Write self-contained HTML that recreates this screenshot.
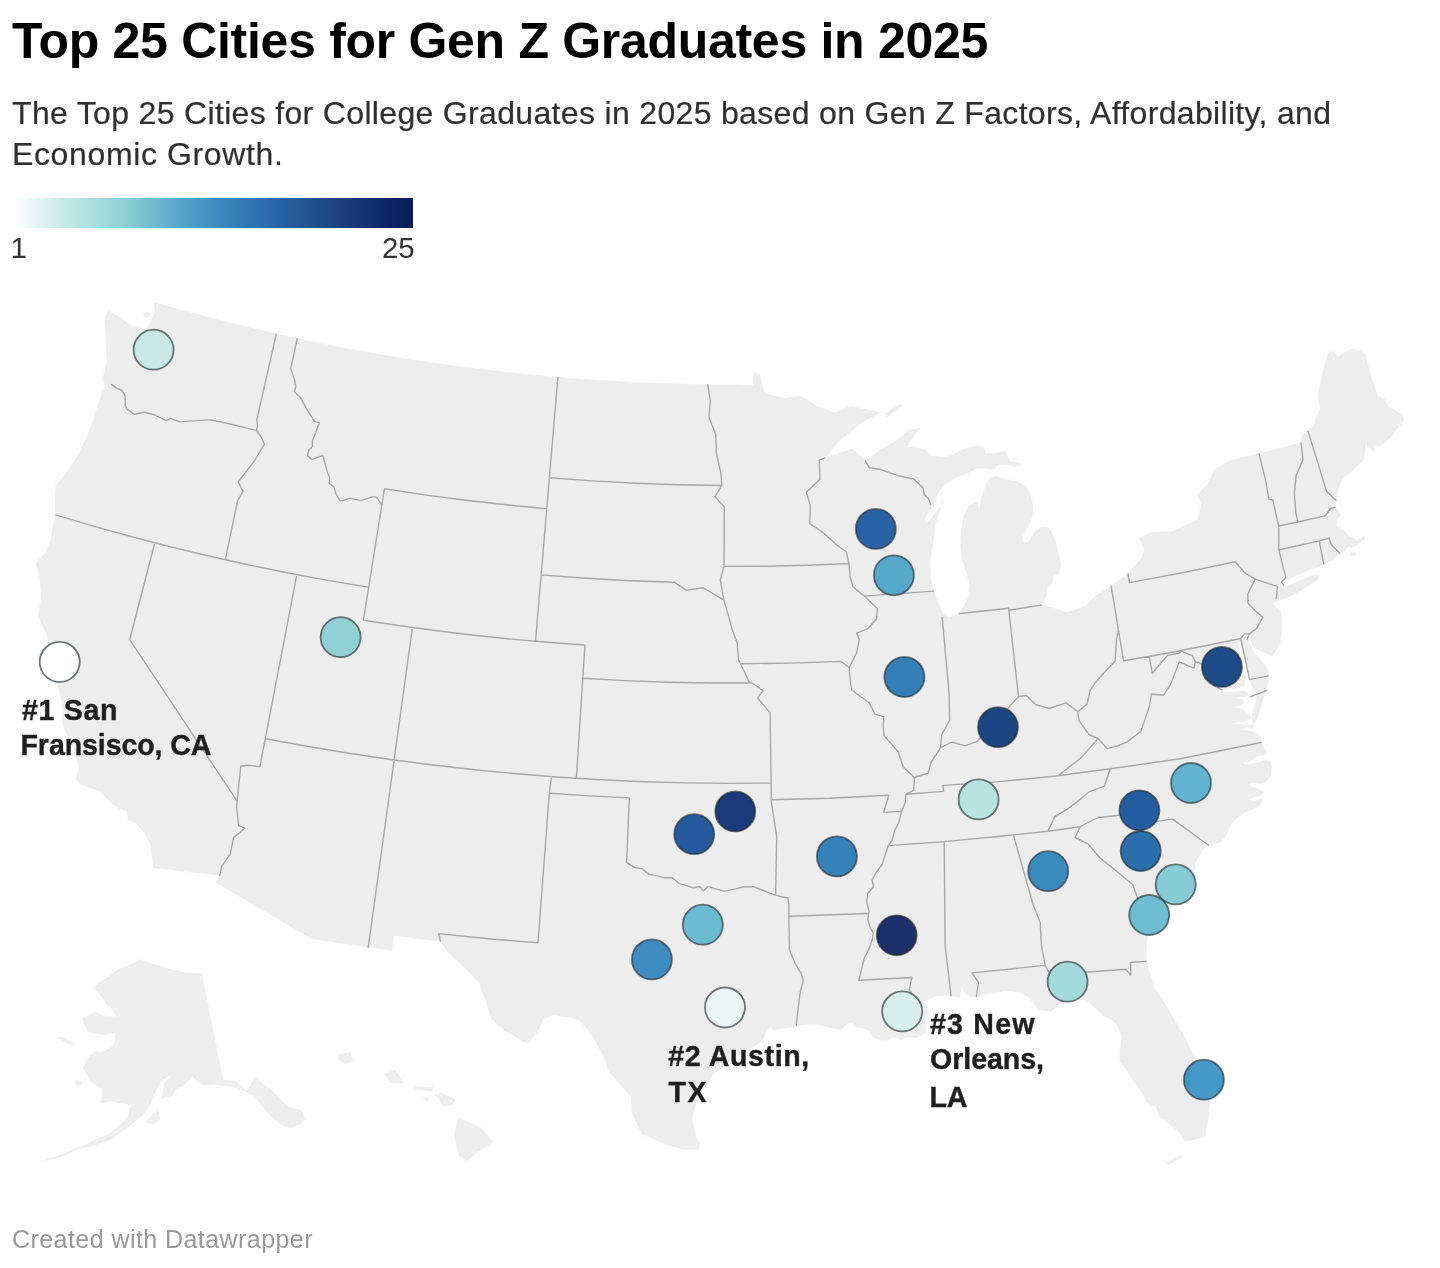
<!DOCTYPE html>
<html lang="en">
<head>
<meta charset="utf-8">
<title>Top 25 Cities for Gen Z Graduates in 2025</title>
<style>
html,body{margin:0;padding:0;background:#fff;}
body{width:1440px;height:1268px;position:relative;overflow:hidden;font-family:"Liberation Sans",sans-serif;}
.abs{position:absolute;white-space:nowrap;}
#title{left:12px;top:12px;font-size:50px;font-weight:700;color:#000;line-height:58px;letter-spacing:-0.3px;}
#sub{left:12px;top:93px;font-size:32px;color:#303030;-webkit-text-stroke:0.2px #303030;line-height:41px;letter-spacing:0.33px;}
#grad{left:13px;top:198px;width:400px;height:30px;background:linear-gradient(90deg,#ffffff 0%,#c9ebe5 12%,#8fd0d4 28%,#55a6ca 42%,#3581b9 55%,#2660a2 68%,#1d3f7e 82%,#0b2360 95%,#081d58 100%);}
.lg{font-size:29.4px;color:#333;top:232.5px;line-height:30px;}
#foot{left:12px;top:1224.3px;font-size:25px;color:#9a9a9a;line-height:30px;letter-spacing:0.44px;}
#map{position:absolute;left:0;top:0;}
.lbl{font-weight:700;font-size:28.6px;fill:#1f1f1f;stroke:#1f1f1f;stroke-width:0.35px;font-family:"Liberation Sans",sans-serif;}
</style>
</head>
<body>
<svg id="map" width="1440" height="1268" viewBox="0 0 1440 1268">
<g fill="#eeeeee" stroke="none"><path d="M58.0,1037.0L63.0,1037.5L70.0,1041.0L74.0,1044.0L71.0,1045.0L64.0,1042.0L59.0,1039.5ZM74.0,1081.0L79.0,1080.0L83.0,1083.0L81.0,1086.0L76.0,1085.0ZM305.2,1120.0L301.6,1110.2L287.9,1106.5L271.9,1089.9L255.2,1077.9L246.6,1091.1L235.0,1080.7L223.1,1079.7L202.1,973.6L185.4,972.4L171.0,969.4L157.0,965.1L139.3,959.3L129.8,965.0L117.5,969.5L110.6,975.5L98.0,982.9L94.3,988.4L102.8,998.6L106.3,1005.0L110.6,1007.3L113.3,1011.7L116.5,1016.2L103.8,1016.3L96.0,1011.5L82.2,1018.3L87.4,1031.7L92.7,1033.3L104.5,1035.1L114.8,1032.9L114.7,1043.3L110.6,1048.1L102.2,1051.8L94.4,1051.2L89.3,1056.2L82.9,1066.9L86.7,1074.7L89.6,1081.1L101.3,1088.6L102.1,1096.9L100.3,1103.1L111.7,1101.4L122.3,1103.5L131.2,1105.1L127.6,1117.8L119.6,1125.4L107.2,1134.8L93.5,1140.3L87.0,1144.1L77.0,1147.2L64.3,1153.2L49.1,1158.3L41.3,1161.3L52.5,1159.1L63.6,1156.6L76.6,1149.5L92.7,1146.0L110.0,1139.8L121.0,1132.5L133.6,1122.7L143.1,1114.8L150.4,1104.4L153.3,1096.2L157.8,1086.8L162.7,1079.7L171.4,1075.2L164.5,1083.1L162.1,1094.9L161.6,1099.5L172.6,1095.5L175.7,1089.5L183.5,1085.4L191.4,1078.7L192.1,1075.2L196.3,1081.7L203.7,1085.4L215.3,1084.7L232.2,1086.7L243.4,1090.7L254.2,1096.3L262.0,1106.2L271.7,1116.7L281.0,1124.7L290.5,1128.3L299.8,1124.5ZM146.1,1121.8L152.4,1125.3L160.4,1119.3L158.3,1110.1L152.3,1114.3Z"/><path d="M458.6,1117.5L480.5,1127.3L493.1,1142.0L477.5,1152.0L466.6,1161.3L458.8,1155.4L454.0,1134.0ZM433.6,1094.5L441.4,1092.8L455.4,1099.4L452.3,1105.3L443.0,1106.7L439.9,1100.1ZM384.6,1074.0L394.8,1069.8L404.1,1083.0L390.1,1082.9ZM339.2,1054.6L350.1,1052.1L353.1,1061.3L345.3,1063.9L337.6,1059.5ZM415.0,1086.3L433.0,1087.3L432.1,1091.2L415.0,1089.6ZM422.7,1096.2L429.9,1098.5L425.9,1101.7Z"/></g>
<path d="M108.5,310.8L105.0,317.8L105.7,331.7L106.4,345.6L107.1,359.4L105.7,367.8L102.9,378.9L105.0,385.8L99.4,401.1L92.5,421.9L85.6,440.0L77.2,456.7L68.0,471.0L56.1,485.7L55.3,500.8L55.8,514.9L53.6,522.9L50.6,541.2L46.0,552.0L36.0,563.2L40.1,579.9L41.3,597.7L38.5,616.0L48.0,638.0L46.7,651.6L57.2,661.6L54.5,671.2L54.2,681.6L59.2,690.0L61.7,700.0L62.5,710.0L61.7,720.0L64.2,728.3L70.0,740.0L75.0,751.7L79.0,766.3L76.3,778.7L79.4,783.7L99.2,790.6L110.3,802.0L119.9,808.8L127.6,811.4L128.4,820.1L136.1,823.0L142.8,830.4L150.9,844.2L152.3,856.5L153.5,867.7L219.8,875.3L215.9,882.3L312.0,938.8L391.7,950.4L393.6,935.5L440.4,941.2L448.4,952.4L463.9,967.0L479.4,982.9L486.3,1001.9L491.9,1019.0L504.0,1030.0L523.4,1041.5L527.6,1042.9L537.1,1032.6L543.3,1018.5L554.2,1014.5L579.7,1019.8L591.9,1034.4L603.9,1056.5L609.0,1071.6L631.5,1097.3L632.4,1113.8L642.1,1133.8L665.8,1144.3L685.2,1149.7L698.3,1149.3L699.7,1144.4L695.6,1136.1L693.5,1127.8L692.1,1118.1L694.2,1108.3L698.0,1098.0L703.0,1088.0L709.4,1079.2L715.0,1072.2L730.0,1062.0L745.0,1052.0L760.8,1041.7L765.0,1034.7L766.4,1029.2L770.6,1026.4L773.3,1029.9L785.8,1027.8L796.3,1026.3L810.0,1023.8L820.0,1024.8L830.0,1027.5L841.3,1029.4L847.5,1023.1L852.5,1021.9L856.3,1026.9L863.8,1028.1L870.0,1031.3L872.5,1036.9L880.0,1039.8L886.3,1040.3L892.5,1037.3L901.3,1039.0L907.5,1037.3L915.0,1037.8L921.3,1035.6L927.0,1031.0L928.5,1015.0L926.0,1004.0L922.5,1001.3L925.7,999.9L936.8,995.7L951.1,995.6L959.8,997.3L961.6,984.5L965.2,993.5L969.8,997.1L976.4,996.5L985.3,994.0L1005.0,990.4L1019.6,992.3L1028.7,997.3L1038.7,1009.5L1050.5,1011.5L1066.5,999.6L1071.4,993.0L1080.3,994.5L1090.1,1003.3L1103.2,1014.9L1116.1,1023.1L1122.2,1035.6L1119.9,1050.9L1119.9,1060.9L1125.4,1068.5L1131.1,1077.6L1142.3,1092.7L1146.7,1102.0L1156.5,1107.2L1159.4,1116.7L1166.1,1120.6L1180.3,1133.4L1184.6,1141.0L1196.5,1139.1L1205.2,1136.0L1205.7,1129.3L1208.2,1117.2L1209.7,1098.7L1207.5,1082.4L1201.8,1070.0L1193.3,1054.7L1182.3,1033.1L1172.2,1016.4L1166.1,1005.6L1154.5,987.3L1149.1,971.4L1146.1,961.1L1146.1,951.7L1146.8,938.2L1150.6,925.8L1155.2,915.6L1160.3,907.4L1165.3,903.2L1176.2,892.9L1178.4,889.2L1186.2,877.7L1194.6,869.5L1194.7,862.7L1198.0,857.8L1202.2,850.0L1208.3,845.3L1213.3,844.4L1220.0,842.2L1225.6,836.7L1228.0,830.0L1232.2,822.2L1237.8,817.8L1244.4,812.4L1251.1,810.0L1257.8,806.7L1261.7,802.2L1261.7,798.9L1255.6,801.1L1248.3,799.8L1254.4,796.4L1260.6,796.1L1263.3,792.2L1258.9,788.9L1251.7,787.2L1249.4,783.3L1254.4,782.2L1260.0,783.3L1266.1,781.7L1270.6,774.4L1271.4,767.8L1270.0,761.1L1265.6,760.0L1260.0,762.2L1252.8,763.9L1246.1,765.6L1241.7,762.2L1248.9,761.7L1257.8,755.6L1264.4,755.0L1267.2,752.8L1263.9,747.8L1261.7,741.7L1260.6,736.7L1256.7,733.3L1251.1,731.7L1240.6,729.4L1246.7,727.2L1252.2,728.3L1254.4,725.6L1245.6,725.0L1230.0,723.9L1237.8,721.7L1246.7,720.6L1251.1,717.8L1246.7,712.2L1242.2,708.9L1232.2,706.7L1240.0,705.6L1244.4,702.2L1242.2,699.4L1233.3,697.8L1240.0,696.7L1245.6,696.7L1248.9,693.3L1244.4,691.1L1235.6,692.2L1224.4,692.2L1216.7,689.4L1226.7,689.4L1237.8,687.8L1243.9,685.6L1245.6,677.8L1242.2,666.7L1240.0,656.7L1237.2,642.2L1240.9,641.1L1244.4,656.7L1247.8,667.8L1250.8,678.3L1252.2,686.7L1255.6,691.1L1256.7,697.8L1254.4,706.7L1252.2,715.6L1252.8,722.2L1255.0,723.3L1257.8,716.7L1260.0,707.8L1262.8,698.9L1266.1,691.1L1267.8,683.3L1268.9,675.6L1267.2,668.9L1264.4,664.4L1257.8,656.7L1252.2,650.0L1248.9,642.2L1247.8,636.7L1249.4,638.3L1253.3,646.7L1263.3,652.2L1272.2,655.6L1275.6,651.1L1280.0,642.2L1281.7,631.1L1281.7,621.0L1281.0,612.0L1274.4,605.6L1272.8,603.3L1278.9,600.0L1286.7,597.8L1295.6,593.3L1306.7,586.7L1316.7,580.0L1320.0,575.6L1315.6,574.4L1306.7,577.8L1293.3,583.3L1284.4,587.7L1281.5,589.5L1281.5,586.5L1283.3,584.0L1286.7,580.0L1295.6,575.6L1306.7,571.1L1317.8,566.7L1324.4,563.9L1332.2,560.0L1335.6,556.7L1340.0,553.3L1344.4,551.1L1348.9,545.6L1351.1,547.8L1357.8,544.4L1364.6,539.0L1364.4,536.6L1356.7,540.0L1348.9,536.7L1345.6,532.2L1340.0,528.9L1336.7,525.6L1336.7,520.0L1340.0,515.6L1338.9,512.2L1335.6,506.7L1336.0,500.2L1337.4,491.9L1342.4,478.4L1352.2,470.9L1357.8,465.6L1363.3,460.0L1365.0,452.2L1365.6,441.1L1367.8,446.7L1373.3,452.2L1375.6,445.6L1378.9,446.7L1384.4,442.2L1391.1,436.7L1395.6,430.0L1400.0,425.6L1403.9,420.0L1401.1,414.4L1395.6,410.6L1388.3,406.7L1384.4,398.9L1377.8,396.7L1375.0,388.9L1371.1,376.7L1367.8,365.6L1365.0,354.4L1360.0,351.1L1352.2,348.9L1344.4,352.8L1337.8,357.2L1333.3,351.7L1328.9,352.2L1325.6,363.3L1322.2,374.4L1321.1,383.3L1318.3,392.2L1318.9,401.1L1320.6,407.8L1316.7,416.7L1313.3,426.7L1307.8,430.6L1301.6,436.2L1301.0,442.9L1267.0,451.6L1228.4,461.1L1215.8,469.0L1207.2,484.5L1197.4,495.0L1201.7,504.3L1197.7,519.8L1173.2,531.5L1151.4,532.3L1139.1,538.3L1144.7,549.4L1141.5,558.4L1127.9,573.7L1120.4,579.0L1111.2,586.3L1094.8,596.7L1085.2,606.6L1066.2,612.8L1060.8,610.2L1053.1,607.9L1041.5,605.1L1046.4,595.3L1047.7,586.8L1052.1,582.8L1053.3,574.2L1060.5,573.2L1058.5,572.8L1060.6,565.8L1059.2,556.1L1055.0,540.8L1049.4,528.3L1042.5,526.9L1035.6,531.1L1028.6,542.2L1023.1,542.9L1021.7,538.1L1027.2,528.3L1032.1,517.2L1032.8,506.1L1030.0,493.6L1027.2,488.1L1018.9,482.5L1005.0,479.0L995.3,476.3L991.1,477.6L986.9,482.5L983.5,492.2L980.7,500.6L979.3,510.3L977.9,503.3L975.8,501.9L968.9,506.1L963.3,517.2L960.6,538.1L961.9,558.9L966.8,572.8L970.0,585.0L968.0,598.0L962.5,609.4L955.6,615.0L950.0,617.8L943.0,615.0L936.1,598.3L930.7,579.7L930.0,565.8L931.4,551.9L933.5,538.1L934.9,525.6L938.3,514.4L943.2,500.6L941.1,506.1L927.9,522.8L924.2,521.4L925.1,517.2L930.7,508.9L936.0,502.5L934.9,499.2L938.3,492.2L945.3,483.9L950.8,481.1L957.8,476.3L966.1,473.5L977.2,467.9L985.6,467.9L993.9,469.3L998.1,465.1L1005.0,464.4L1014.7,466.5L1021.7,465.1L1017.5,462.4L1010.6,461.7L1007.1,456.1L1005.0,451.3L995.3,453.3L985.6,454.0L983.5,447.1L977.2,445.7L961.9,449.9L952.2,455.4L942.5,457.5L931.4,456.1L925.8,449.9L911.9,447.1L907.1,447.8L909.9,440.8L917.5,431.1L919.6,428.3L909.9,429.7L896.7,440.8L880.0,449.9L865.3,460.8L852.7,448.9L843.7,452.0L824.7,457.9L840.8,439.0L862.4,422.0L879.8,412.7L868.4,410.1L850.3,406.3L835.1,413.0L816.9,406.2L801.1,396.3L792.2,397.2L784.5,398.5L764.5,393.5L762.0,385.0L759.5,374.0L756.0,372.5L753.3,374.0L753.5,385.5L734.7,384.9L701.7,384.6L668.8,383.8L635.8,382.5L602.9,380.7L570.0,378.4L537.1,375.5L504.3,372.1L471.6,368.2L438.9,363.8L406.3,358.9L373.7,353.5L341.3,347.5L309.0,341.0L276.7,334.1L244.6,326.6L212.6,318.6L180.7,310.1L154.1,302.6L155.2,311.4L151.0,322.1L146.5,329.4L132.4,326.3ZM143.0,315.0L146.0,312.5L150.0,313.0L149.0,316.5L145.0,317.0ZM1350.0,553.0L1355.0,552.0L1356.0,555.0L1351.0,556.0ZM1166.0,1163.0L1180.0,1155.0L1182.0,1157.0L1169.0,1164.5ZM886.8,417.1L902.7,405.4L899.3,404.7L885.5,413.9Z" fill="#ededed" stroke="#ededed" stroke-width="0.6" stroke-linejoin="round" fill-rule="evenodd"/>
<path d="" fill="#ffffff" stroke="none"/>
<path d="M111.9,384.4L116.1,387.9L121.7,390.0L125.1,395.6L125.1,405.3L127.2,409.4L134.2,414.3L143.9,412.2L155.0,415.0L166.1,420.6L170.3,418.5L180.0,421.9L196.7,420.6L210.6,419.9L230.0,424.0L256.6,430.5M276.3,333.9L256.8,420.0L257.5,425.6L256.6,430.5M256.6,430.5L261.7,438.1L264.4,444.3L254.7,460.3L246.4,471.4L238.3,481.8L241.5,488.8L243.1,491.0L237.5,501.1L225.3,559.8M297.1,338.8L290.8,368.6L295.0,381.1L295.7,386.7L294.3,391.5L300.6,397.8L307.5,410.3L314.4,421.4L319.3,422.8L315.8,432.5L312.4,440.8L312.4,446.4L308.9,449.9L307.5,455.4L311.7,459.6L317.2,457.5L322.8,455.4L324.9,463.1L327.6,472.8L329.7,478.3L329.0,483.2L333.9,486.7L336.1,494.2L340.3,501.1L350.0,498.3L361.1,500.6L372.2,496.9L376.4,496.9L381.1,503.9M55.8,514.9L94.3,526.3L133.0,537.0L171.9,547.1L211.0,556.5L250.2,565.2L289.6,573.3L329.1,580.6L368.7,587.3M384.4,488.8L424.9,494.9L465.4,500.2L506.1,504.8L546.8,508.7M384.4,488.8L363.4,620.3M557.9,377.4L535.5,641.3M549.4,477.7L592.4,480.9L635.5,483.3L678.7,484.8L721.8,485.5M707.7,384.7L710.3,401.1L709.0,417.5L715.6,434.0L716.5,453.7L721.0,473.6L721.8,485.5L715.0,496.7L724.2,506.7L724.0,566.4M541.2,574.9L585.6,578.2L630.0,580.7L674.5,582.3L686.4,590.2L703.4,587.8L717.8,596.3L723.8,600.0M724.0,566.4L720.3,579.7L723.8,600.0M724.0,566.4L765.6,566.2L807.3,565.3L848.9,563.5M723.8,600.0L728.6,616.4L732.3,629.7L737.2,643.0L738.5,659.7L740.5,663.7L749.8,683.1L752.1,683.0L763.0,690.6L757.5,698.0L770.1,712.6L771.4,799.8M740.5,663.7L790.8,663.1L841.1,661.4L849.1,667.7M582.8,678.3L625.1,680.6L667.4,682.2L709.7,683.0L752.1,683.0M363.4,620.3L400.2,625.8L437.0,630.8L473.9,635.2L510.8,639.1L547.9,642.3L584.9,645.0M584.9,645.0L576.4,778.3M412.4,627.6L368.3,947.2M296.8,574.7L265.3,738.7M265.3,738.7L306.9,746.3L348.7,753.2L390.6,759.5L432.6,765.0L474.7,769.7L516.9,773.8L559.2,777.2L601.4,779.8L643.8,781.7L686.1,782.9L728.5,783.4L770.8,783.1M551.6,776.6L549.3,793.2L538.0,942.9M537.7,942.8L488.1,938.7L438.7,933.6L440.4,941.2M550.4,793.3L589.8,795.9L629.3,797.9L626.6,862.6L635.6,867.8L642.2,868.9L648.9,874.4L656.7,875.6L664.4,877.8L672.2,877.8L678.9,883.3L686.7,885.6L693.3,887.8L700.0,886.7L703.3,891.1L707.8,886.7L715.6,888.9L724.4,891.1L735.6,888.9L744.4,886.7L753.3,886.7L762.2,890.0L773.3,894.4L781.1,896.7L787.8,897.8L788.9,904.4L788.8,915.7L789.5,949.9L795.6,964.4L801.1,973.3L803.3,980.0L800.0,993.3L797.8,1011.1L796.3,1025.0M771.1,799.8L776.7,836.8L775.6,894.8M788.8,916.3L867.9,913.5M771.1,799.8L830.0,798.3L888.8,795.3L883.7,812.4L901.7,811.2M914.5,777.5L913.6,790.3L905.9,794.2L905.2,802.6L901.7,811.2L898.9,822.2L894.4,831.1L892.2,840.0L888.5,845.6L885.6,853.3L882.2,864.4L875.6,873.3L872.2,880.0L873.3,886.7L867.8,893.3L866.7,902.2L868.9,911.1L867.8,920.0L870.0,926.7L873.3,933.3L872.2,940.0L868.9,948.9L864.4,957.8L862.2,966.7L860.0,975.6L858.9,980.3L911.9,977.5L909.3,989.4L915.7,1000.6L919.7,1004.3M914.5,777.5L903.6,767.6L897.8,751.2L883.8,735.4L883.2,724.4L884.0,716.9L874.9,714.1L869.1,702.7L852.0,690.3L850.4,682.6L849.1,667.7L856.4,653.3L859.4,639.7L856.6,633.2L867.9,628.6L876.7,618.7L877.3,608.6L864.4,596.1L853.0,586.7L850.1,576.8L848.9,563.5L846.4,552.0L837.8,545.8L821.8,531.5L809.8,523.6L810.3,505.4L806.4,492.3L819.8,479.5L819.3,460.1L824.7,457.9M864.4,596.1L933.3,591.1M865.3,460.8L869.4,467.8L880.0,469.3L898.1,475.6L913.3,479.0L917.5,482.5L923.1,488.1L924.4,495.0L927.9,497.8L930.7,504.4M914.5,777.5L928.1,773.2L931.1,762.2L940.4,748.0L951.5,742.0L964.9,745.8L977.4,741.3L984.3,732.2L998.0,726.7L1005.3,711.4L1018.5,696.5L1026.6,695.5L1035.4,704.5L1048.8,708.5L1066.1,702.8L1077.7,711.7L1087.0,704.3L1090.1,690.3L1095.4,682.7L1101.9,675.0L1115.1,661.1L1116.6,638.8L1118.5,630.4M940.4,748.0L941.8,734.5L949.6,720.4L949.2,695.3L942.2,617.1M1018.5,696.5L1008.8,610.2M959.8,613.5L1008.6,608.2L1008.8,610.2L1041.5,605.1M1111.2,586.3L1123.5,660.7M1123.5,660.7L1162.7,654.0L1201.7,646.5L1240.7,638.5M1149.3,656.3L1152.3,673.5L1160.4,663.5L1167.6,655.4L1179.0,653.3L1181.7,651.1L1192.4,655.9L1195.3,661.4L1201.8,664.2L1207.7,668.2L1215.2,671.8L1213.9,685.7L1222.0,690.0M1195.3,661.4L1194.0,668.1L1179.3,661.8L1170.2,685.2L1163.5,695.2L1151.5,694.0L1149.6,705.5L1140.9,731.4L1126.8,742.1L1118.6,745.5L1107.2,748.6L1098.0,738.5M1077.7,711.7L1079.0,720.6L1088.8,734.4L1098.0,738.5L1081.6,757.4L1058.1,775.7M1058.1,775.7L997.3,781.9L943.0,785.4L943.5,791.4L905.9,794.2M1058.1,775.7L1110.3,768.7L1180.2,758.8L1261.0,742.5M1110.3,768.7L1104.3,786.2L1089.1,791.8L1077.1,801.9L1067.3,809.2L1054.8,816.6L1048.0,831.2M1080.2,826.7L1048.0,831.2L1003.1,836.0L944.2,841.6L887.9,845.6M1080.2,826.7L1098.1,817.5L1134.2,813.7L1135.0,816.9L1137.6,814.8L1143.1,823.4L1172.7,819.1L1208.2,845.0M1080.2,826.7L1075.1,837.5L1088.3,844.1L1099.8,857.7L1118.6,872.8L1132.9,884.8L1137.9,899.2L1146.8,911.2L1155.2,915.6M1013.6,835.6L1033.0,904.2L1040.2,922.5L1041.5,945.8L1045.2,965.4L1050.3,974.8L1125.7,969.2L1130.9,975.2L1130.5,962.5L1146.1,961.1M1045.2,965.4L972.0,972.9L978.5,982.3L976.4,996.5M944.2,841.6L945.1,945.1L951.1,995.6M1127.9,573.7L1129.4,582.6L1183.7,572.5L1235.1,561.8L1245.2,573.2L1255.3,579.1L1247.8,593.8L1248.1,603.3L1256.4,611.7L1262.7,617.2L1256.4,628.9L1249.2,633.9L1244.6,633.9L1240.7,638.5L1249.6,679.6L1268.2,675.9M1255.3,579.1L1277.3,586.4L1276.4,598.6M1249.2,633.9L1247.1,639.5M1250.4,696.9L1266.5,690.6M1259.1,453.8L1265.4,479.6L1269.0,499.3L1272.8,500.0L1278.7,526.0L1278.7,550.0L1285.9,577.4L1281.4,582.0L1283.3,584.9M1301.0,442.9L1303.0,459.8L1296.1,475.4L1294.4,492.9L1295.9,513.2L1297.8,522.0M1278.7,526.0L1297.8,522.0L1325.2,515.9L1330.8,508.5L1334.9,507.4M1278.7,550.0L1319.2,540.9L1329.2,538.3L1330.2,542.1L1332.4,545.7L1339.8,553.4M1319.2,540.9L1323.7,563.8M1308.0,431.1L1326.6,491.4L1336.0,500.2M154.8,542.7L129.7,639.7L237.1,801.2L236.6,808.0L238.7,825.4L245.0,828.3L233.4,837.9L230.2,854.3L221.7,866.2L219.8,875.3M265.3,738.7L259.9,766.6L247.7,765.2L240.8,766.2L237.1,801.2" fill="none" stroke="#a8a8a8" stroke-width="1.4" stroke-linejoin="round" stroke-linecap="round"/>
<g stroke="#20282c" stroke-opacity="0.62" stroke-width="1.8">
<circle cx="153.6" cy="349.7" r="20" fill="#c8e9e4"/>
<circle cx="59.7" cy="661.9" r="20" fill="#ffffff"/>
<circle cx="340.6" cy="637.2" r="20" fill="#8fd0d4"/>
<circle cx="875.8" cy="528.9" r="20" fill="#2963a5"/>
<circle cx="893.9" cy="575.3" r="20" fill="#56a8cb"/>
<circle cx="904.4" cy="676.9" r="20" fill="#3580b8"/>
<circle cx="998" cy="727.2" r="20" fill="#1d4582"/>
<circle cx="1221.9" cy="666.9" r="20" fill="#1f4a88"/>
<circle cx="978.6" cy="799.4" r="20" fill="#b9e3e0"/>
<circle cx="1191" cy="783" r="20" fill="#62b3d0"/>
<circle cx="1139.4" cy="810.3" r="20" fill="#245d9f"/>
<circle cx="1140.7" cy="851" r="20" fill="#2c6dab"/>
<circle cx="1048.2" cy="871.2" r="20" fill="#3c8bc0"/>
<circle cx="1175.7" cy="884.4" r="20" fill="#87cbd4"/>
<circle cx="1149.2" cy="915" r="20" fill="#6fbdd3"/>
<circle cx="1067.6" cy="981.7" r="20" fill="#a3d9db"/>
<circle cx="1203.9" cy="1079.7" r="20" fill="#4597c7"/>
<circle cx="902.2" cy="1011.4" r="20" fill="#d9efec"/>
<circle cx="896.7" cy="935.3" r="20" fill="#1b3068"/>
<circle cx="836.9" cy="856.4" r="20" fill="#3681ba"/>
<circle cx="735.3" cy="811.4" r="20" fill="#1d3a78"/>
<circle cx="694.2" cy="834.2" r="20" fill="#255b9d"/>
<circle cx="702.8" cy="924.7" r="20" fill="#6bbad2"/>
<circle cx="651.9" cy="959.4" r="20" fill="#3f8cc2"/>
<circle cx="725" cy="1007.5" r="20" fill="#edf6f5"/>
</g>
<defs><filter id="halo" x="-20%" y="-20%" width="140%" height="140%"><feGaussianBlur stdDeviation="2.2"/></filter></defs>
<g class="lbl" filter="url(#halo)" style="fill:#fff;stroke:#fff;stroke-width:9px;stroke-linejoin:round">
<text x="930" y="1033.7" textLength="104.5" lengthAdjust="spacing">#3 New</text>
<text x="930" y="1069" textLength="114" lengthAdjust="spacing">Orleans,</text>
</g>
<g class="lbl">
<text x="22" y="720" textLength="95.4" lengthAdjust="spacing">#1 San</text>
<text x="20.5" y="755" textLength="191" lengthAdjust="spacing">Fransisco, CA</text>
<text x="668.2" y="1066.3" textLength="141" lengthAdjust="spacing">#2 Austin,</text>
<text x="668.5" y="1102.2" textLength="38" lengthAdjust="spacing">TX</text>
<text x="930" y="1033.7" textLength="104.5" lengthAdjust="spacing">#3 New</text>
<text x="930" y="1069" textLength="114" lengthAdjust="spacing">Orleans,</text>
<text x="929.5" y="1106.5" textLength="38" lengthAdjust="spacing">LA</text>
</g>
</svg>
<div id="title" class="abs">Top 25 Cities for Gen Z Graduates in 2025</div>
<div id="sub" class="abs">The Top 25 Cities for College Graduates in 2025 based on Gen Z Factors, Affordability, and<br><span style="letter-spacing:0.63px">Economic Growth.</span></div>
<div id="grad" class="abs"></div>
<div class="abs lg" style="left:10.5px;">1</div>
<div class="abs lg" style="left:314.6px;width:100px;text-align:right;">25</div>
<div id="foot" class="abs">Created with Datawrapper</div>
</body>
</html>
